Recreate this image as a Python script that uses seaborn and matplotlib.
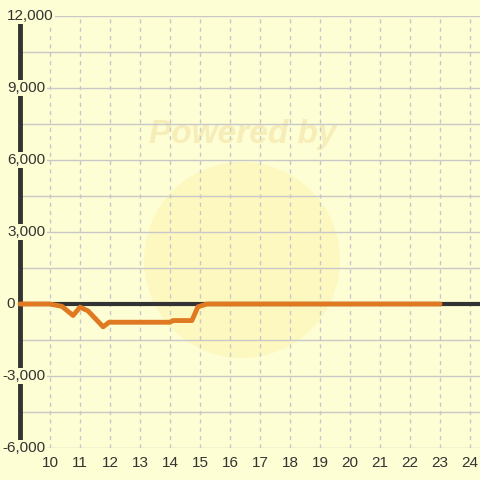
import numpy as np
import pandas as pd
import matplotlib
matplotlib.use('Agg')
import matplotlib.pyplot as plt
import matplotlib.patches as mpatches
import seaborn as sns

#---------------------------------------------------------
hours=[9.0, 10.0, 10.4, 10.77, 11.0, 11.27, 11.77, 11.97, 14.0, 14.1, 14.73, 14.93, 15.23, 23.0]
values=[0, 0, -100, -480, -130, -290, -950, -760, -760, -690, -690, -120, 0, 0]
yticks=[12000, 9000, 6000, 3000, 0, -3000, -6000]
xticks=list(range(10, 25))

bg='#FEFED4'
line_col='#E07A22'
grid_col='#C8C8C8'
dark='#333333'

#--------------------------------------------------------
df=pd.DataFrame({'hour': hours, 'value': values})

sns.set_style('white')
plt.rcParams['font.family']=['Liberation Sans', 'DejaVu Sans']

fig=plt.figure(figsize=(4.8, 4.8), dpi=100, facecolor=bg)
ax=fig.add_axes([20/480, 32/480, 460/480, 432/480])
ax.set_facecolor(bg)
ax.set_xlim(9, 9+460/30)
ax.set_ylim(-6000, 12000)

#watermark
circ=mpatches.Ellipse((242/480, 1-260/480), 196/480, 196/480, transform=fig.transFigure,
	facecolor='#FCF1A8', alpha=0.45, edgecolor='none', zorder=0.1)
ax.add_patch(circ)
ax.text(243/480, 1-135/480, 'Powered by', transform=fig.transFigure, ha='center', va='center',
	fontsize=24, weight='bold', style='italic', color='#F6EDB8', zorder=0.2)

#grid
for y in np.arange(-6000, 12001, 1500):
	ax.axhline(y, color=grid_col, lw=1, zorder=0.5)
for x in xticks:
	ax.axvline(x, color=grid_col, lw=1, ls=(0, (3, 3)), zorder=0.5)
ax.axhline(0, color=dark, lw=3, zorder=1)
ax.axvline(9, color=dark, lw=3.5, zorder=1, clip_on=False)

#plot
sns.lineplot(data=df, x='hour', y='value', color=line_col, lw=3.5, ax=ax, zorder=3,
	solid_joinstyle='round', solid_capstyle='round', clip_on=False)

#adjust
for s in ax.spines.values():
	s.set_visible(False)
ax.set_xlabel('')
ax.set_ylabel('')
ax.set_xticks(xticks)
ax.set_xticklabels([str(x) for x in xticks], fontsize=11, color=dark)
ax.tick_params(axis='x', length=0, pad=6)
ax.set_yticks([])
for y in yticks:
	if y==0:
		ha, xp='right', 15
	elif y<0:
		ha, xp='left', 2
	else:
		ha, xp='left', 7
	ax.text(xp/480, 32/480+(y+6000)/18000*432/480, f'{y:,}', transform=fig.transFigure,
		ha=ha, va='center', fontsize=11, color=dark, zorder=5,
		bbox=dict(facecolor=bg, edgecolor='none', pad=1))

#save
plt.savefig('out.png', dpi=100, facecolor=bg)
plt.close()
